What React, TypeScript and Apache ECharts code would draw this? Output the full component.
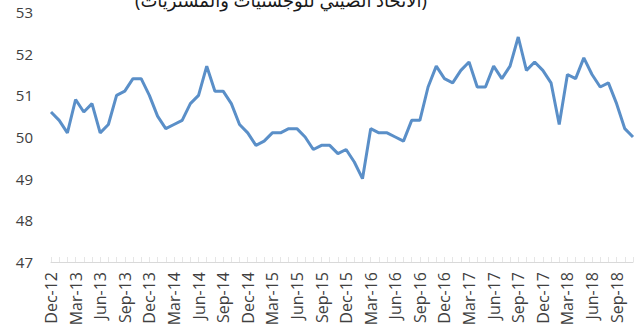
import React, { useEffect, useRef } from "react";
import * as echarts from "echarts";

const months = ["Jan","Feb","Mar","Apr","May","Jun","Jul","Aug","Sep","Oct","Nov","Dec"];
const categories: string[] = ["Dec-12"];
for (let y = 13; y <= 18; y++) {
  for (let m = 0; m < 12; m++) {
    if (y === 18 && m > 10) break;
    categories.push(`${months[m]}-${y}`);
  }
}

const pmiValues = [
  50.6,
  50.4, 50.1, 50.9, 50.6, 50.8, 50.1, 50.3, 51.0, 51.1, 51.4, 51.4, 51.0,
  50.5, 50.2, 50.3, 50.4, 50.8, 51.0, 51.7, 51.1, 51.1, 50.8, 50.3, 50.1,
  49.8, 49.9, 50.1, 50.1, 50.2, 50.2, 50.0, 49.7, 49.8, 49.8, 49.6, 49.7,
  49.4, 49.0, 50.2, 50.1, 50.1, 50.0, 49.9, 50.4, 50.4, 51.2, 51.7, 51.4,
  51.3, 51.6, 51.8, 51.2, 51.2, 51.7, 51.4, 51.7, 52.4, 51.6, 51.8, 51.6,
  51.3, 50.3, 51.5, 51.4, 51.9, 51.5, 51.2, 51.3, 50.8, 50.2, 50.0,
];

const titleText = "(الاتحاد الصيني للوجستيات والمشتريات)";

export default function App() {
  const ref = useRef<HTMLDivElement>(null);
  useEffect(() => {
    if (!ref.current) return;
    const chart = echarts.init(ref.current, undefined, { renderer: "svg" });
    chart.setOption({
      animation: false,
      backgroundColor: "#ffffff",
      graphic: [
        {
          type: "text",
          left: 275 - 140,
          top: -9,
          style: {
            text: titleText,
            font: "18px 'Noto Sans', 'DejaVu Sans', sans-serif",
            fill: "#1a1a1a",
          },
        },
      ],
      grid: { left: 51, right: 8, top: 12, bottom: 67 },
      xAxis: {
        type: "category",
        data: categories,
        boundaryGap: false,
        axisLine: { show: true, lineStyle: { color: "#d9d9d9", width: 1 } },
        axisTick: { show: true, inside: true, length: 5, interval: 0, lineStyle: { color: "#e6e6e6" } },
        axisLabel: {
          interval: 2,
          rotate: 90,
          margin: 10,
          color: "#404040",
          fontSize: 16,
          fontFamily: "'Open Sans', 'Noto Sans', sans-serif",
        },
        splitLine: { show: false },
      },
      yAxis: {
        type: "value",
        min: 47,
        max: 53,
        interval: 1,
        axisLine: { show: false },
        axisTick: { show: false },
        splitLine: { show: false },
        axisLabel: {
          margin: 18,
          color: "#404040",
          fontSize: 15,
          fontFamily: "'Open Sans', 'Noto Sans', sans-serif",
        },
      },
      series: [
        {
          type: "line",
          data: pmiValues,
          symbol: "none",
          lineStyle: { color: "#5A8FC8", width: 3 },
        },
      ],
    });
    return () => chart.dispose();
  }, []);
  return <div ref={ref} style={{ width: 641, height: 329, position: "absolute", left: 0, top: 0 }} />;
}
